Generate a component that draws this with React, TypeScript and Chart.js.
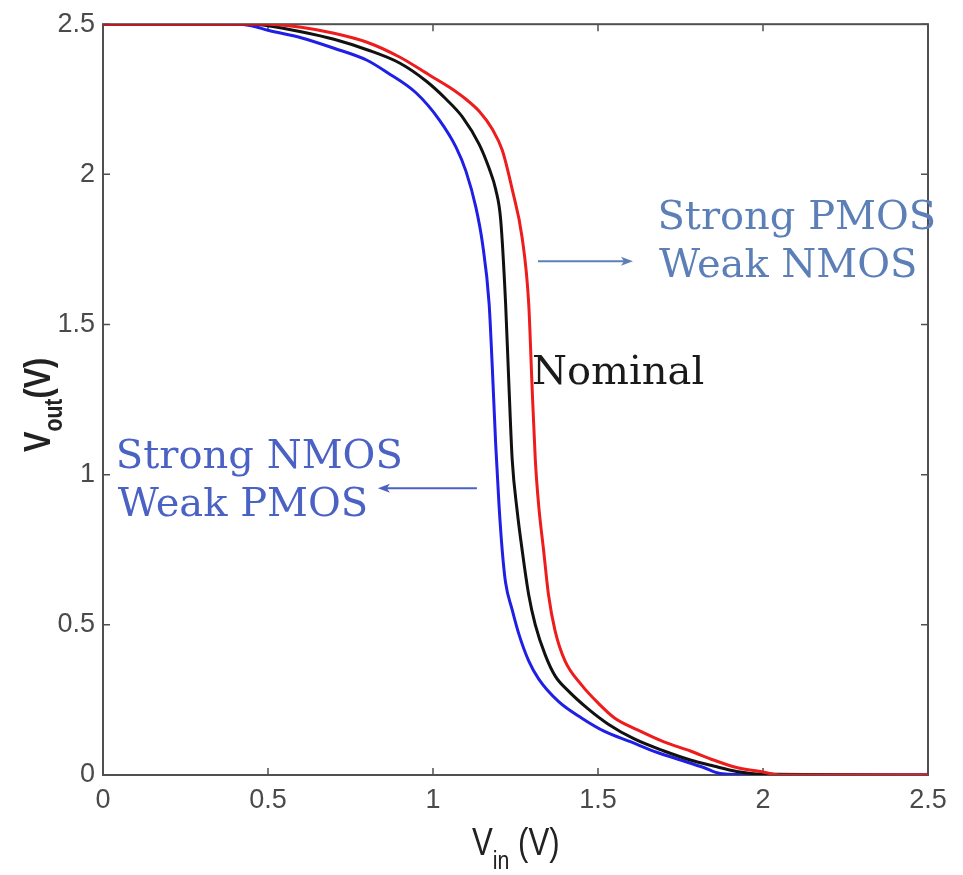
import React, { useEffect, useRef } from 'react';
import { Chart, registerables } from 'chart.js';
Chart.register(...registerables);

// Strong NMOS / Weak PMOS (blue)
const strongNmosVin = [0, 0.40, 0.45, 0.5, 0.6, 0.7, 0.8, 0.86, 0.95, 1.02, 1.07, 1.10, 1.13, 1.15, 1.17, 1.18, 1.19, 1.20, 1.21, 1.22, 1.24, 1.26, 1.29, 1.32, 1.38, 1.45, 1.52, 1.60, 1.68, 1.75, 1.82, 1.87, 2.0, 2.5];
const strongNmosVout = [2.5, 2.5, 2.495, 2.48, 2.455, 2.42, 2.38, 2.34, 2.27, 2.18, 2.09, 2.01, 1.89, 1.77, 1.57, 1.35, 1.1, 0.9, 0.745, 0.64, 0.55, 0.47, 0.38, 0.32, 0.245, 0.19, 0.145, 0.11, 0.075, 0.05, 0.025, 0.005, 0, 0];

// Nominal (black)
const nominalVin = [0, 0.45, 0.5, 0.6, 0.7, 0.8, 0.9, 0.98, 1.04, 1.09, 1.14, 1.17, 1.19, 1.205, 1.22, 1.23, 1.24, 1.255, 1.27, 1.29, 1.31, 1.34, 1.37, 1.41, 1.47, 1.53, 1.61, 1.70, 1.78, 1.85, 1.92, 2.0, 2.5];
const nominalVout = [2.5, 2.5, 2.495, 2.475, 2.45, 2.415, 2.37, 2.31, 2.25, 2.19, 2.10, 2.02, 1.95, 1.85, 1.57, 1.30, 1.05, 0.88, 0.75, 0.60, 0.50, 0.40, 0.33, 0.28, 0.22, 0.17, 0.12, 0.08, 0.05, 0.03, 0.012, 0.003, 0];

// Strong PMOS / Weak NMOS (red)
const strongPmosVin = [0, 0.5, 0.6, 0.7, 0.8, 0.9, 0.99, 1.05, 1.10, 1.14, 1.18, 1.21, 1.24, 1.27, 1.29, 1.30, 1.31, 1.32, 1.335, 1.35, 1.37, 1.40, 1.45, 1.50, 1.55, 1.62, 1.70, 1.78, 1.85, 1.92, 2.0, 2.05, 2.5];
const strongPmosVout = [2.5, 2.5, 2.49, 2.47, 2.44, 2.39, 2.33, 2.29, 2.25, 2.21, 2.15, 2.08, 1.95, 1.79, 1.57, 1.30, 1.05, 0.90, 0.75, 0.60, 0.48, 0.38, 0.30, 0.24, 0.19, 0.15, 0.11, 0.08, 0.05, 0.025, 0.01, 0, 0];

const xTickValues = [0, 0.5, 1, 1.5, 2, 2.5];
const yTickValues = [0, 0.5, 1, 1.5, 2, 2.5];

const toPoints = (xs: number[], ys: number[]) => xs.map((x, i) => ({ x, y: ys[i] }));

const TICK_FONT = "'Liberation Sans', Arial, sans-serif";
const SERIF = "'DejaVu Serif', 'Liberation Serif', serif";

const framePlugin = {
  id: 'frame',
  beforeDatasetsDraw(chart: any) {
    const { ctx, chartArea: a, scales } = chart;
    ctx.save();
    ctx.strokeStyle = '#505050';
    ctx.lineWidth = 2;
    ctx.strokeRect(a.left, a.top, a.right - a.left, a.bottom - a.top);
    ctx.lineWidth = 1.5;
    const tl = 7;
    ctx.beginPath();
    xTickValues.forEach((v) => {
      const px = scales.x.getPixelForValue(v);
      ctx.moveTo(px, a.bottom); ctx.lineTo(px, a.bottom - tl);
      ctx.moveTo(px, a.top); ctx.lineTo(px, a.top + tl);
    });
    yTickValues.forEach((v) => {
      const py = scales.y.getPixelForValue(v);
      ctx.moveTo(a.left, py); ctx.lineTo(a.left + tl, py);
      ctx.moveTo(a.right, py); ctx.lineTo(a.right - tl, py);
    });
    ctx.stroke();
    ctx.restore();
  },
};

function arrow(ctx: any, x1: number, y1: number, x2: number, y2: number, color: string) {
  ctx.save();
  ctx.strokeStyle = color;
  ctx.fillStyle = color;
  ctx.lineWidth = 2;
  const dir = Math.sign(x2 - x1);
  ctx.beginPath();
  ctx.moveTo(x1, y1);
  ctx.lineTo(x2 - dir * 8, y2);
  ctx.stroke();
  ctx.beginPath();
  ctx.moveTo(x2, y2);
  ctx.lineTo(x2 - dir * 12, y2 - 4.5);
  ctx.lineTo(x2 - dir * 9, y2);
  ctx.lineTo(x2 - dir * 12, y2 + 4.5);
  ctx.closePath();
  ctx.fill();
  ctx.restore();
}

const annotationPlugin = {
  id: 'annotations',
  afterDatasetsDraw(chart: any) {
    const { ctx, scales } = chart;
    const X = (v: number) => scales.x.getPixelForValue(v);
    const Y = (v: number) => scales.y.getPixelForValue(v);
    ctx.save();
    ctx.textBaseline = 'alphabetic';
    ctx.textAlign = 'left';
    ctx.font = `40px ${SERIF}`;
    // right annotation
    const pColor = '#5c7fb8';
    ctx.fillStyle = pColor;
    ctx.fillText('Strong PMOS', X(1.68), Y(1.817));
    ctx.fillText('Weak NMOS', X(1.685), Y(1.658));
    arrow(ctx, X(1.318), Y(1.711), X(1.606), Y(1.711), pColor);
    // left annotation
    const nColor = '#4a62c4';
    ctx.fillStyle = nColor;
    ctx.fillText('Strong NMOS', X(0.039), Y(1.021));
    ctx.fillText('Weak PMOS', X(0.045), Y(0.862));
    arrow(ctx, X(1.133), Y(0.955), X(0.833), Y(0.955), nColor);
    // nominal
    ctx.fillStyle = '#1a1a1a';
    ctx.fillText('Nominal', X(1.30), Y(1.303));
    ctx.restore();
  },
  afterDraw(chart: any) {
    const { ctx } = chart;
    ctx.save();
    ctx.fillStyle = '#222';
    ctx.textBaseline = 'alphabetic';
    ctx.textAlign = 'left';
    // x title: V_in (V)
    const big = `38px ${TICK_FONT}`;
    const small = `26px ${TICK_FONT}`;
    ctx.save();
    ctx.translate(472, 855);
    ctx.scale(0.82, 1);
    ctx.font = big;
    let w1 = ctx.measureText('V').width;
    ctx.fillText('V', 0, 0);
    ctx.font = small;
    ctx.fillText('in', w1, 14);
    let w2 = ctx.measureText('in').width;
    ctx.font = big;
    ctx.fillText(' (V)', w1 + w2, 0);
    ctx.restore();
    // y title: V_out(V)
    ctx.save();
    ctx.translate(50, 452);
    ctx.rotate(-Math.PI / 2);
    ctx.scale(0.85, 1);
    const bigB = `bold 36px ${TICK_FONT}`;
    const smallB = `bold 25px ${TICK_FONT}`;
    ctx.font = bigB;
    w1 = ctx.measureText('V').width;
    ctx.fillText('V', 0, 0);
    ctx.font = smallB;
    ctx.fillText('out', w1, 12);
    w2 = ctx.measureText('out').width;
    ctx.font = bigB;
    ctx.fillText('(V)', w1 + w2, 0);
    ctx.restore();
    ctx.restore();
  },
};

export default function App() {
  const canvasRef = useRef<HTMLCanvasElement | null>(null);
  useEffect(() => {
    if (!canvasRef.current) return;
    const chart = new Chart(canvasRef.current, {
      type: 'line',
      data: {
        datasets: [
          {
            label: 'Strong PMOS / Weak NMOS',
            data: toPoints(strongPmosVin, strongPmosVout),
            borderColor: '#ee1c1c',
            order: 0,
          },
          {
            label: 'Nominal',
            data: toPoints(nominalVin, nominalVout),
            borderColor: '#111111',
            order: 1,
          },
          {
            label: 'Strong NMOS / Weak PMOS',
            data: toPoints(strongNmosVin, strongNmosVout),
            borderColor: '#1f1fe6',
            order: 2,
          },
        ].map((d) => ({
          ...d,
          borderWidth: 3,
          pointRadius: 0,
          fill: false,
          cubicInterpolationMode: 'monotone' as const,
        })),
      },
      options: {
        animation: false,
        responsive: true,
        maintainAspectRatio: false,
        layout: { padding: { top: 21, right: 35, left: 0, bottom: 0 } },
        plugins: { legend: { display: false }, tooltip: { enabled: false } },
        scales: {
          x: {
            type: 'linear',
            min: 0,
            max: 2.5,
            afterFit: (s: any) => { s.height = 100; },
            afterBuildTicks: (s: any) => { s.ticks = xTickValues.map((v) => ({ value: v })); },
            grid: { display: false, drawTicks: false },
            border: { display: false },
            ticks: {
              padding: 9,
              color: '#4a4a4a',
              font: { family: TICK_FONT, size: 27 },
              maxRotation: 0,
              callback: (v: any) => String(v),
            },
          },
          y: {
            type: 'linear',
            min: 0,
            max: 2.5,
            afterFit: (s: any) => { s.width = 103; },
            afterBuildTicks: (s: any) => { s.ticks = yTickValues.map((v) => ({ value: v })); },
            grid: { display: false, drawTicks: false },
            border: { display: false },
            ticks: {
              padding: 8,
              color: '#4a4a4a',
              font: { family: TICK_FONT, size: 27 },
              callback: (v: any) => String(v),
            },
          },
        },
      },
      plugins: [framePlugin, annotationPlugin],
    });
    return () => chart.destroy();
  }, []);
  return (
    <div style={{ position: 'fixed', left: 0, top: 0, width: 963, height: 875, background: '#fff' }}>
      <canvas ref={canvasRef} />
    </div>
  );
}
